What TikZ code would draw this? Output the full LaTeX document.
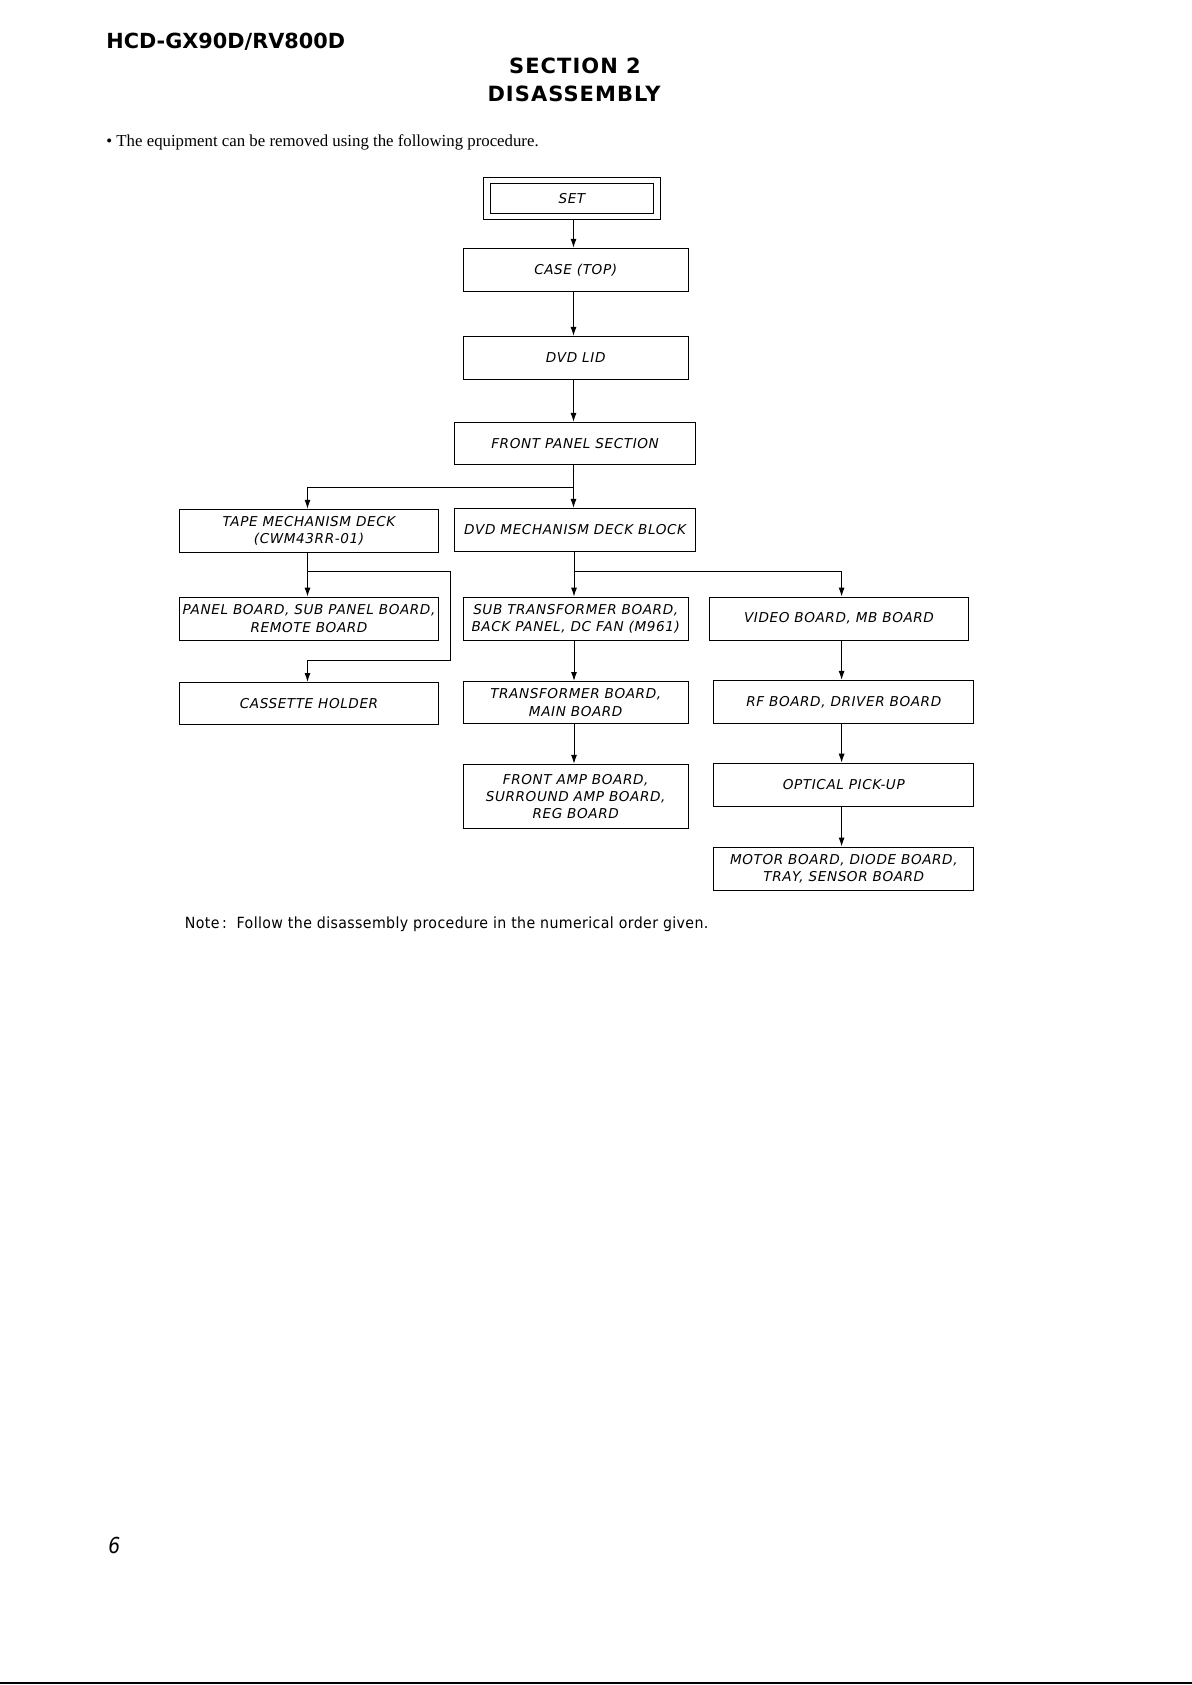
\documentclass[tikz,border=0pt]{standalone}
\usepackage{fontspec}
\usetikzlibrary{arrows.meta}
\newfontfamily\boxfont{DejaVu Sans}[LetterSpace=4.3]
\newfontfamily\headfont{DejaVu Sans}
\newfontfamily\secfont{DejaVu Sans}[LetterSpace=5]
\newfontfamily\bulfont{Liberation Serif}
\newfontfamily\notefont{DejaVu Sans}[FakeStretch=0.92,LetterSpace=2.5]
\newfontfamily\pagefont{DejaVu Sans}[FakeStretch=0.85]
\begin{document}
\begin{tikzpicture}[x=0.5pt,y=-0.5pt,
  box/.style={draw, line width=0.5pt, inner sep=0pt, align=center,
              font=\fontsize{6.8}{8.6}\boxfont\itshape},
  frame/.style={draw, line width=0.5pt, inner sep=0pt},
  arr/.style={line width=0.5pt, -{Latex[length=4.5pt,width=3pt]}},
  ln/.style={line width=0.5pt},
  txt/.style={inner sep=0pt}]
\useasboundingbox (0,0) rectangle (1192,1685);
\fill[white] (0,0) rectangle (1192,1685);

% headings
\node[txt, anchor=base west, font=\fontsize{10.4}{12}\headfont\bfseries] (hdr) at (106,48.3) {HCD-GX90D/RV800D};
\node[txt, anchor=base, font=\fontsize{10.5}{12}\secfont\bfseries] (sec) at (575,74) {SECTION 2};
\node[txt, anchor=base, font=\fontsize{10.5}{12}\secfont\bfseries] (dis) at (574,101.5) {DISASSEMBLY};
\node[txt, anchor=base west, font=\fontsize{8.4}{10}\bulfont] (bul) at (106,146.5) {• The equipment can be removed using the following procedure.};

% boxes
\node[frame, minimum width=88.2pt, minimum height=21pt] (setframe) at (571.9,198.4) {};
\node[box, minimum width=81.75pt, minimum height=15pt] (set) at (571.9,198.4) {SET};
\node[box, minimum width=112.35pt, minimum height=21.5pt] (case) at (575.7,269.8) {CASE (TOP)};
\node[box, minimum width=112.35pt, minimum height=21.5pt] (lid) at (575.7,357.9) {DVD LID};
\node[box, minimum width=120.4pt, minimum height=21pt] (front) at (575.1,443.4) {FRONT PANEL SECTION};
\node[box, minimum width=129.5pt, minimum height=21.5pt] (tape) at (309,530.8) {TAPE MECHANISM DECK\\(CWM43RR-01)};
\node[box, minimum width=120.4pt, minimum height=21.5pt] (dvd) at (575.1,529.9) {DVD MECHANISM DECK BLOCK};
\node[box, minimum width=129.5pt, minimum height=21.5pt] (panel) at (309,618.6) {PANEL BOARD, SUB PANEL BOARD,\\REMOTE BOARD};
\node[box, minimum width=129.5pt, minimum height=21pt] (cass) at (309,703.5) {CASSETTE HOLDER};
\node[box, minimum width=112.35pt, minimum height=21.5pt] (sub) at (575.7,618.6) {SUB TRANSFORMER BOARD,\\BACK PANEL, DC FAN (M961)};
\node[box, minimum width=129.5pt, minimum height=21.5pt] (video) at (839,618.6) {VIDEO BOARD, MB BOARD};
\node[box, minimum width=112.35pt, minimum height=21pt] (trans) at (575.7,702.5) {TRANSFORMER BOARD,\\MAIN BOARD};
\node[box, minimum width=130.1pt, minimum height=21.5pt] (rf) at (843.8,701.9) {RF BOARD, DRIVER BOARD};
\node[box, minimum width=112.35pt, minimum height=32.2pt] (famp) at (575.7,796.5) {FRONT AMP BOARD,\\SURROUND AMP BOARD,\\REG BOARD};
\node[box, minimum width=130.1pt, minimum height=21.5pt] (opt) at (843.8,784.7) {OPTICAL PICK-UP};
\node[box, minimum width=130.1pt, minimum height=21.5pt] (motor) at (843.8,868.5) {MOTOR BOARD, DIODE BOARD,\\TRAY, SENSOR BOARD};

% routing coordinates
\coordinate (sx) at (573.5,0);
\coordinate (dx) at (574,0);
\coordinate (tx) at (307.5,0);
\coordinate (vx) at (841.6,0);
\coordinate (fork1) at (573.5,487);
\coordinate (tfork) at (307.5,571.8);
\coordinate (loopR1) at (450.4,571.8);
\coordinate (loopR2) at (450.4,660);
\coordinate (loopL) at (307.5,660);
\coordinate (dfork) at (574,571.8);
\coordinate (vfork) at (841.6,571.8);

% connectors
\draw[arr] (setframe.south -| sx) -- (case.north -| sx);
\draw[arr] (case.south -| sx) -- (lid.north -| sx);
\draw[arr] (lid.south -| sx) -- (front.north -| sx);
\draw[arr] (front.south -| sx) -- (dvd.north -| sx);
\draw[arr] (fork1) -- (fork1 -| tx) -- (tape.north -| tx);
\draw[arr] (tape.south -| tx) -- (panel.north -| tx);
\draw[arr] (tfork) -- (loopR1) -- (loopR2) -- (loopL) -- (cass.north -| tx);
\draw[arr] (dvd.south -| dx) -- (sub.north -| dx);
\draw[arr] (dfork) -- (vfork) -- (video.north -| vx);
\draw[arr] (sub.south -| dx) -- (trans.north -| dx);
\draw[arr] (trans.south -| dx) -- (famp.north -| dx);
\draw[arr] (video.south -| vx) -- (rf.north -| vx);
\draw[arr] (rf.south -| vx) -- (opt.north -| vx);
\draw[arr] (opt.south -| vx) -- (motor.north -| vx);

% note and page number
\node[txt, anchor=base west, font=\fontsize{7.7}{9}\notefont] (note) at (184.5,928.5) {Note\,:\ \ Follow the disassembly procedure in the numerical order given.};
\node[txt, anchor=base west, font=\fontsize{11}{13}\pagefont\itshape] (pg) at (108,1553) {6};

% bottom rule
\coordinate (bl) at (0,1683);
\coordinate (br) at (1192,1683);
\draw[line width=1pt] (bl) -- (br);
\end{tikzpicture}
\end{document}
